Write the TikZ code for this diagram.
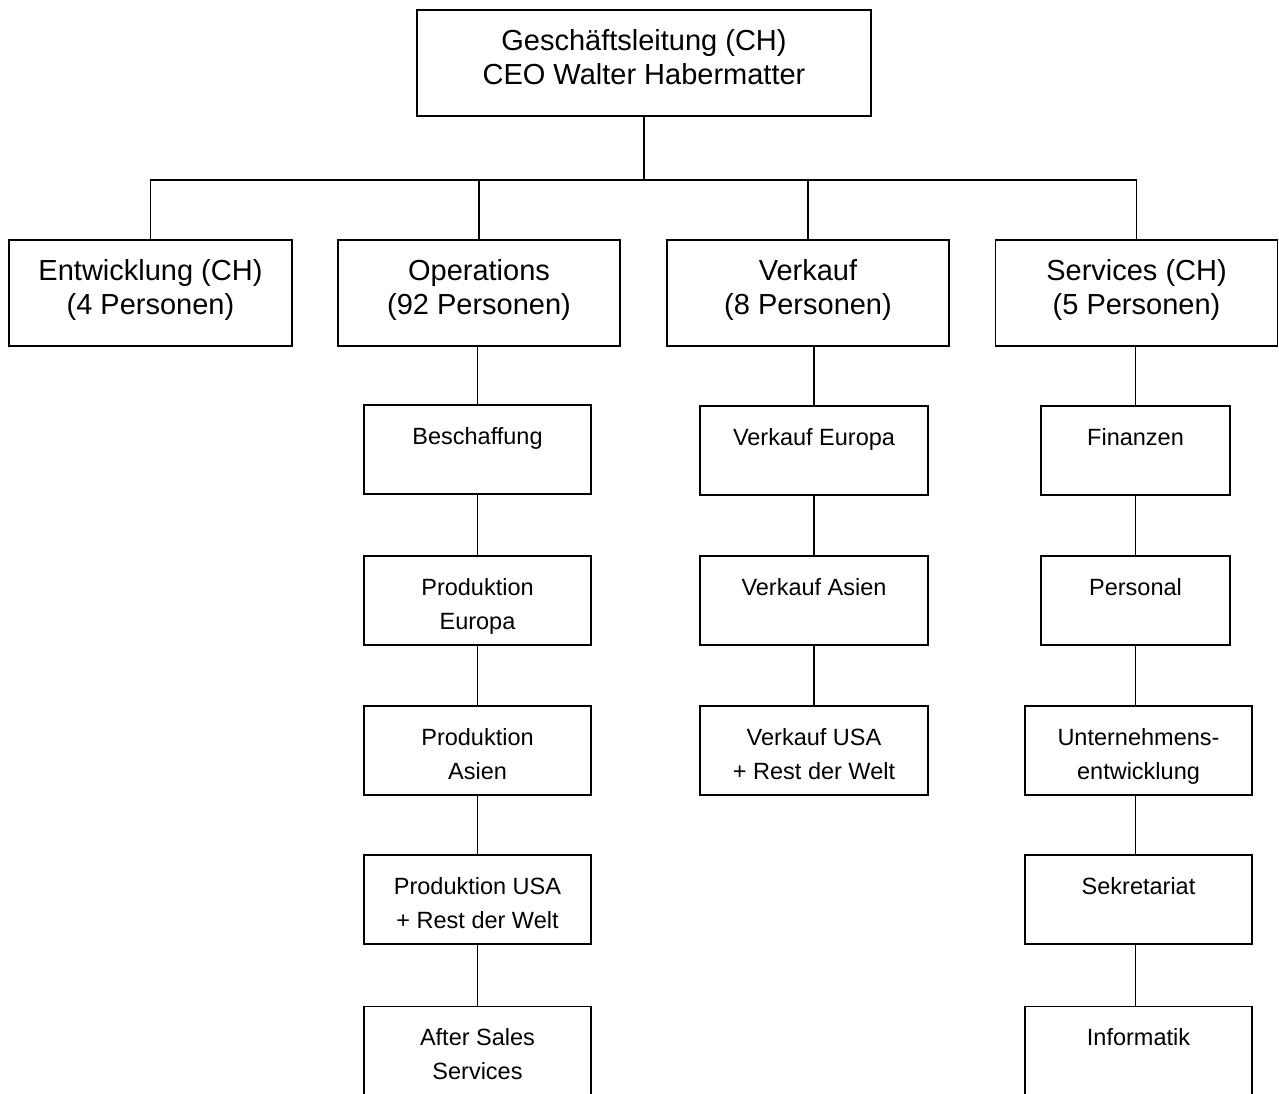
\documentclass[tikz,border=0pt]{standalone}
\usepackage{fontspec}
\setmainfont{Liberation Sans}
\usetikzlibrary{positioning}

\begin{document}
\begin{tikzpicture}[x=1pt, y=-1pt, line width=1.6pt,
    unit/.style={draw, inner sep=0pt, font=\fontsize{29}{34}\selectfont,
      execute at begin node={\begin{minipage}[c][106pt][t]{#1}\centering\rule{0pt}{40pt}},
      execute at end node={\end{minipage}}},
    dept/.style={draw, inner sep=0pt, font=\fontsize{23.5}{34}\selectfont,
      execute at begin node={\begin{minipage}[c][89pt][t]{#1}\centering\rule{0pt}{39pt}},
      execute at end node={\end{minipage}}}]
  \useasboundingbox (0,0) rectangle (1279,1093);
  \clip (0,0) rectangle (1279,1093);

  % Geschaeftsleitung
  \node[unit=454pt] (gl) at (644,63) {Geschäftsleitung (CH)\\CEO Walter Habermatter};

  % Bereiche
  \node[unit=283pt] (entw) at (150.5,293) {Entwicklung (CH)\\(4 Personen)};
  \node[unit=282pt] (ops) at (479,293) {Operations\\(92 Personen)};
  \node[unit=282pt] (vk) at (808,293) {Verkauf\\(8 Personen)};
  \node[unit=282pt] (svc) at (1136.5,293) {Services (CH)\\(5 Personen)};

  \coordinate (bus) at (644,180);
  \draw (gl.south) -- (bus);
  \draw (entw.north) |- (bus) -| (svc.north);
  \draw (ops.north) -- (ops.north |- bus);
  \draw (vk.north) -- (vk.north |- bus);

  % Operations
  \node[dept=227pt] (besch) at (477.5,449.5) {Beschaffung};
  \node[dept=227pt] (prodeu) at (477.5,600.5) {Produktion\\Europa};
  \node[dept=227pt] (prodas) at (477.5,750.5) {Produktion\\Asien};
  \node[dept=227pt] (produs) at (477.5,899.5) {Produktion USA\\+ Rest der Welt};
  \node[dept=227pt] (after) at (477.5,1051) {After Sales\\Services};

  \draw (besch.north |- ops.south) -- (besch.north);
  \foreach \a/\b in {besch/prodeu, prodeu/prodas, prodas/produs, produs/after}
    \draw (\a.south) -- (\b.north);

  % Verkauf
  \node[dept=228pt] (vkeu) at (814,450.5) {Verkauf Europa};
  \node[dept=228pt] (vkas) at (814,600.5) {Verkauf Asien};
  \node[dept=228pt] (vkus) at (814,750.5) {Verkauf USA\\+ Rest der Welt};

  \draw (vkeu.north |- vk.south) -- (vkeu.north);
  \foreach \a/\b in {vkeu/vkas, vkas/vkus}
    \draw (\a.south) -- (\b.north);

  % Services
  \node[dept=189pt] (fin) at (1135.5,450.5) {Finanzen};
  \node[dept=189pt] (pers) at (1135.5,600.5) {Personal};
  \node[dept=227pt] (uent) at (1138.5,750.5) {Unternehmens-\\entwicklung};
  \node[dept=227pt] (sekr) at (1138.5,899.5) {Sekretariat};
  \node[dept=227pt] (info) at (1138.5,1051) {Informatik};

  \draw (fin.north |- svc.south) -- (fin.north);
  \draw (fin.south) -- (pers.north);
  \foreach \a/\b in {pers/uent, uent/sekr, sekr/info}
    \draw (fin |- \a.south) -- (fin |- \b.north);
\end{tikzpicture}
\end{document}
